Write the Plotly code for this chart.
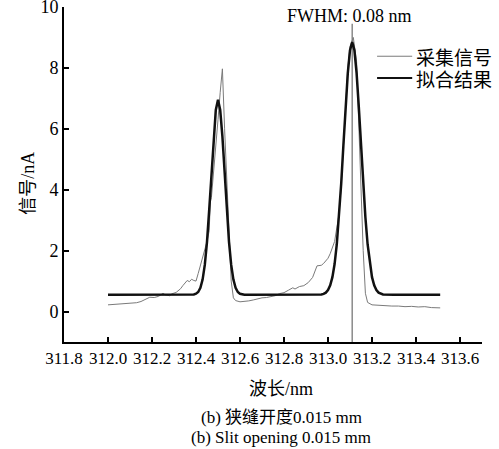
import plotly.graph_objects as go

# ---- data ----
signal_x = [312.00, 312.03, 312.06, 312.09, 312.11, 312.13, 312.15, 312.17, 312.19, 312.21,
            312.23, 312.25, 312.26, 312.28, 312.29, 312.31, 312.33, 312.34, 312.35, 312.36,
            312.37, 312.38, 312.39, 312.40, 312.41, 312.42, 312.43, 312.44, 312.45, 312.46,
            312.465, 312.47, 312.48, 312.49, 312.50, 312.51, 312.52, 312.53, 312.54, 312.55,
            312.56, 312.57, 312.58, 312.60, 312.62, 312.64, 312.66, 312.68, 312.70, 312.72,
            312.74, 312.76, 312.78, 312.80, 312.82, 312.84, 312.85, 312.87, 312.89, 312.91,
            312.93, 312.94, 312.95, 312.97, 312.98, 313.00, 313.01, 313.03, 313.04, 313.05,
            313.06, 313.07, 313.08, 313.09, 313.10, 313.115, 313.13, 313.14, 313.15, 313.16,
            313.17, 313.18, 313.20, 313.23, 313.26, 313.29, 313.32, 313.35, 313.38, 313.41,
            313.44, 313.47, 313.51]
signal_y = [0.22, 0.24, 0.26, 0.27, 0.30, 0.29, 0.33, 0.40, 0.47, 0.46,
            0.50, 0.60, 0.55, 0.52, 0.58, 0.63, 0.75, 0.85, 0.92, 1.02,
            0.98, 1.06, 1.02, 1.00, 1.25, 1.50, 1.80, 2.05, 2.30, 2.65,
            3.60, 3.74, 4.70, 5.50, 6.30, 7.20, 7.97, 6.00, 4.30, 2.50,
            1.00, 0.45, 0.36, 0.32, 0.33, 0.35, 0.38, 0.42, 0.45, 0.46,
            0.50, 0.52, 0.59, 0.62, 0.70, 0.78, 0.74, 0.82, 0.85, 0.95,
            1.12, 1.30, 1.50, 1.52, 1.58, 1.75, 1.90, 2.30, 2.70, 3.20,
            4.10, 5.30, 6.60, 8.00, 8.70, 9.00, 8.20, 6.00, 4.00, 2.00,
            0.60, 0.30, 0.22, 0.20, 0.19, 0.18, 0.18, 0.16, 0.17, 0.15,
            0.16, 0.13, 0.12]

fit_x = [312.00, 312.10, 312.20, 312.30, 312.39, 312.40, 312.41, 312.42, 312.43, 312.44,
         312.45, 312.46, 312.47, 312.48, 312.49, 312.50, 312.51, 312.52, 312.53, 312.54,
         312.55, 312.56, 312.57, 312.58, 312.59, 312.60, 312.61, 312.62, 312.63, 312.70,
         312.80, 312.90, 312.97, 312.98, 312.99, 313.00, 313.01, 313.02, 313.03, 313.04,
         313.05, 313.06, 313.07, 313.08, 313.09, 313.10, 313.11, 313.12, 313.13, 313.14,
         313.15, 313.16, 313.17, 313.18, 313.19, 313.20, 313.21, 313.22, 313.23, 313.24,
         313.25, 313.30, 313.40, 313.51]
fit_y = [0.55, 0.55, 0.55, 0.55, 0.56, 0.585, 0.64, 0.78, 1.05, 1.53,
         2.29, 3.34, 4.56, 5.75, 6.62, 6.95, 6.62, 5.75, 4.56, 3.34,
         2.29, 1.53, 1.05, 0.78, 0.64, 0.585, 0.56, 0.55, 0.55, 0.55,
         0.55, 0.55, 0.56, 0.58, 0.62, 0.705, 0.86, 1.13, 1.56, 2.21,
         3.09, 4.20, 5.46, 6.72, 7.83, 8.58, 8.85, 8.58, 7.83, 6.72,
         5.46, 4.20, 3.09, 2.21, 1.56, 1.13, 0.86, 0.705, 0.62, 0.58,
         0.56, 0.55, 0.55, 0.55]

series_names = ["采集信号", "拟合结果"]
peak_center = 313.11     # marked peak position (vertical line)
marker_top = 9.45
x_ticks = [311.8, 312.0, 312.2, 312.4, 312.6, 312.8, 313.0, 313.2, 313.4, 313.6]
x_tick_text = ["311.8", "312.0", "312.2", "312.4", "312.6", "312.8", "313.0", "313.2", "313.4", "313.6"]
y_ticks = [0, 2, 4, 6, 8, 10]
x_range = [311.8, 313.7]
y_range = [-1, 10]

SERIF = "Liberation Serif"
CJK = "Noto Sans CJK SC"
SIG_COLOR = "#7a7a7a"
FIT_COLOR = "#111111"


def cjk(s):
    return "<span style='font-family:\"%s\"'>%s</span>" % (CJK, s)


fig = go.Figure()
fig.add_trace(go.Scatter(x=signal_x, y=signal_y, mode="lines", name=series_names[0],
                         line=dict(color=SIG_COLOR, width=1), showlegend=False))
fig.add_trace(go.Scatter(x=fit_x, y=fit_y, mode="lines", name=series_names[1],
                         line=dict(color=FIT_COLOR, width=2.5), showlegend=False))

fig.add_shape(type="line", xref="x", yref="y", x0=peak_center, x1=peak_center,
              y0=y_range[0], y1=marker_top, line=dict(color="#8a8a8a", width=1.5), layer="below")

# manual legend (line samples + labels)
legend_rows = [0.853, 0.788]
for name, color, w, ly in zip(series_names, [SIG_COLOR, FIT_COLOR], [1, 2], legend_rows):
    fig.add_shape(type="line", xref="paper", yref="paper", x0=0.749, x1=0.833, y0=ly, y1=ly,
                  line=dict(color=color, width=w))
    fig.add_annotation(text=name, xref="paper", yref="paper", x=0.838, y=ly,
                       xanchor="left", yanchor="middle", showarrow=False,
                       font=dict(size=19, family=CJK, color="black"))

fig.update_layout(
    width=499, height=449, autosize=False,
    margin=dict(l=64, r=17, t=7, b=107, autoexpand=False),
    paper_bgcolor="white", plot_bgcolor="white",
    font=dict(family=SERIF, size=17, color="black"),
    showlegend=False,
    xaxis=dict(range=x_range, tickvals=x_ticks, ticktext=x_tick_text,
               ticks="inside", ticklen=5, tickwidth=1.5, tickcolor="black",
               showline=True, linecolor="black", linewidth=2, showgrid=False,
               zeroline=False, ticklabeloverflow="allow", automargin=False,
               tickfont=dict(size=17, family=SERIF, color="black")),
    yaxis=dict(range=y_range, tickvals=y_ticks,
               ticks="inside", ticklen=5, tickwidth=1.5, tickcolor="black",
               showline=True, linecolor="black", linewidth=2, showgrid=False,
               zeroline=False, ticklabeloverflow="allow", automargin=False,
               tickfont=dict(size=18, family=SERIF, color="black")),
)

common = dict(xref="paper", yref="paper", xanchor="center", yanchor="middle", showarrow=False)
fig.add_annotation(text="FWHM: 0.08 nm", x=0.682, y=0.972, font=dict(size=18, family=SERIF), **common)
fig.add_annotation(text=cjk("信号") + "/nA", x=-0.093, y=0.473, textangle=-90,
                   font=dict(size=18, family=SERIF), **common)
fig.add_annotation(text=cjk("波长") + "/nm", x=0.52, y=-0.134, font=dict(size=18, family=SERIF), **common)
fig.add_annotation(text="(b) " + cjk("狭缝开度") + "0.015 mm", x=0.52, y=-0.220,
                   font=dict(size=17, family=SERIF), **common)
fig.add_annotation(text="(b) Slit opening 0.015 mm", x=0.52, y=-0.286,
                   font=dict(size=17, family=SERIF), **common)

fig.write_html("out.html", config={"displayModeBar": False},
               post_script="document.body.style.margin='0px';")
